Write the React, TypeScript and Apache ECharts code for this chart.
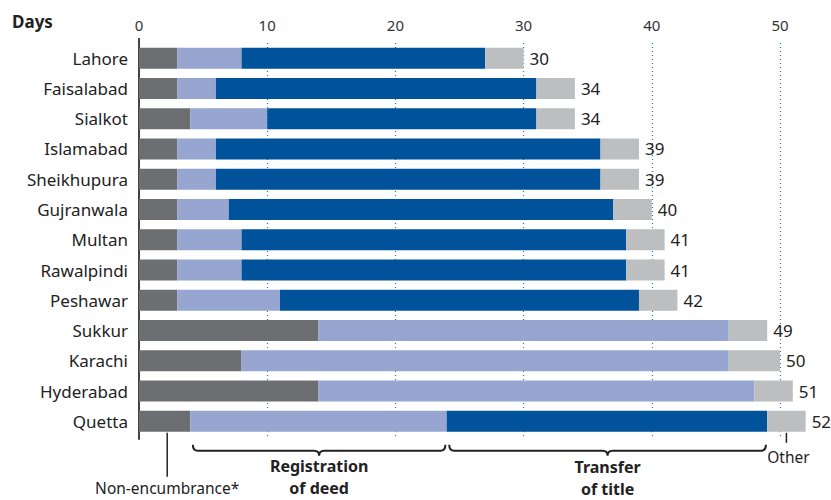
import React, { useEffect, useRef } from "react";
import * as echarts from "echarts";

const categories = ["Lahore", "Faisalabad", "Sialkot", "Islamabad", "Sheikhupura", "Gujranwala", "Multan", "Rawalpindi", "Peshawar", "Sukkur", "Karachi", "Hyderabad", "Quetta"];
const nonEncumbrance = [3, 3, 4, 3, 3, 3, 3, 3, 3, 14, 8, 14, 4];
const registration = [5, 3, 6, 3, 3, 4, 5, 5, 8, 32, 38, 34, 20];
const transfer = [19, 25, 21, 30, 30, 30, 30, 30, 28, 0, 0, 0, 25];
const other = [3, 3, 3, 3, 3, 3, 3, 3, 3, 3, 4, 3, 3];
const totals = [30, 34, 34, 39, 39, 40, 41, 41, 42, 49, 50, 51, 52];
const xTicks = [0, 10, 20, 30, 40, 50];

const FONT = "'Noto Sans', sans-serif";
const COLORS = { nonEnc: "#6d6e71", reg: "#96a6d1", transfer: "#00529b", other: "#bcbec0" };

export default function App() {
  const ref = useRef<HTMLDivElement>(null);
  useEffect(() => {
    document.body.style.margin = "0";
    const chart = echarts.init(ref.current!, null, { renderer: "svg" });
    const base = { type: "bar", stack: "t", barWidth: 21, clip: false, emphasis: { disabled: true } };
    chart.setOption({
      animation: false,
      textStyle: { fontFamily: FONT },
      grid: { left: 139, right: 51, top: 43, bottom: 63.5 },
      xAxis: {
        type: "value",
        position: "top",
        min: xTicks[0],
        max: xTicks[xTicks.length - 1],
        interval: 10,
        axisLine: { show: false },
        axisTick: { show: false },
        axisLabel: { fontSize: 15, color: "#333", margin: 11, fontFamily: FONT },
        splitLine: { show: true, lineStyle: { type: [1, 3], color: "#2f74c0", width: 1.2 } },
      },
      yAxis: {
        type: "category",
        data: categories,
        inverse: true,
        axisLine: { show: false },
        axisTick: { show: false },
        axisLabel: { fontSize: 17, color: "#222", margin: 11, fontFamily: FONT },
      },
      series: [
        { ...base, name: "Non-encumbrance", data: nonEncumbrance, itemStyle: { color: COLORS.nonEnc } },
        { ...base, name: "Registration of deed", data: registration, itemStyle: { color: COLORS.reg } },
        { ...base, name: "Transfer of title", data: transfer, itemStyle: { color: COLORS.transfer } },
        {
          ...base,
          name: "Other",
          data: other,
          itemStyle: { color: COLORS.other },
          label: {
            show: true,
            position: "right",
            distance: 6,
            fontSize: 17,
            color: "#222",
            fontFamily: FONT,
            formatter: (p: any) => String(totals[p.dataIndex]),
          },
        },
      ],
    });

    const px = (v: number) => chart.convertToPixel({ xAxisIndex: 0 }, v) as number;
    const last = categories.length - 1;
    const qy = chart.convertToPixel({ yAxisIndex: 0 }, categories[last]) as number;
    const barBottom = qy + 10.5;
    const x0 = px(0);
    const top0 = 38;

    const q1 = nonEncumbrance[last];
    const q2 = q1 + registration[last];
    const q3 = q2 + transfer[last];
    const q4 = q3 + other[last];

    const braceY = barBottom + 19;
    const bracePath = (x1: number, x2: number, y: number) => {
      const cx = (x1 + x2) / 2;
      return `M${x1} ${y - 6} Q${x1} ${y} ${x1 + 5} ${y} L${cx - 5} ${y} Q${cx} ${y} ${cx} ${y + 5} Q${cx} ${y} ${cx + 5} ${y} L${x2 - 5} ${y} Q${x2} ${y} ${x2} ${y - 6}`;
    };
    const r1 = px(q1 + 0.2), r2 = px(q2 - 0.1);
    const t1 = px(q2 + 0.2), t2 = px(q3 - 0.1);
    echarts.graphic.registerShape("braceReg", echarts.graphic.extendPath(bracePath(r1, r2, braceY), {}));
    echarts.graphic.registerShape("braceTr", echarts.graphic.extendPath(bracePath(t1, t2, braceY), {}));

    const nx = px(q1 * 0.55);
    const ox = px((q3 + q4) / 2);
    const lineStyle = { stroke: "#222", lineWidth: 1.5 };
    const boldText = (text: string, x: number, y: number) => ({
      type: "text",
      x,
      y,
      style: { text, fill: "#222", font: `bold 16px ${FONT}`, lineHeight: 22, textAlign: "center", textVerticalAlign: "top" },
    });

    chart.setOption({
      graphic: [
        { type: "text", left: 12, top: 13, style: { text: "Days", fill: "#222", font: `bold 17px ${FONT}` } },
        { type: "line", shape: { x1: x0, y1: top0, x2: x0, y2: barBottom + 8 }, style: { stroke: "#444", lineWidth: 2 } },
        { type: "line", shape: { x1: nx, y1: barBottom + 1, x2: nx, y2: barBottom + 45 }, style: lineStyle },
        { type: "text", x: nx, y: 488, style: { text: "Non-encumbrance*", fill: "#222", font: `15.5px ${FONT}`, textAlign: "center", textVerticalAlign: "middle" } },
        { type: "braceReg", x: 0, y: 0, style: { fill: "none", stroke: "#222", lineWidth: 2 } },
        { type: "braceTr", x: 0, y: 0, style: { fill: "none", stroke: "#222", lineWidth: 2 } },
        boldText("Registration\nof deed", (r1 + r2) / 2, 455),
        boldText("Transfer\nof title", (t1 + t2) / 2, 456),
        { type: "line", shape: { x1: ox, y1: barBottom + 1, x2: ox, y2: barBottom + 11 }, style: lineStyle },
        { type: "text", x: ox + 2, y: barBottom + 25, style: { text: "Other", fill: "#222", font: `15.5px ${FONT}`, textAlign: "center", textVerticalAlign: "middle" } },
      ],
    });
    return () => chart.dispose();
  }, []);
  return <div ref={ref} style={{ width: 831, height: 500 }} />;
}
